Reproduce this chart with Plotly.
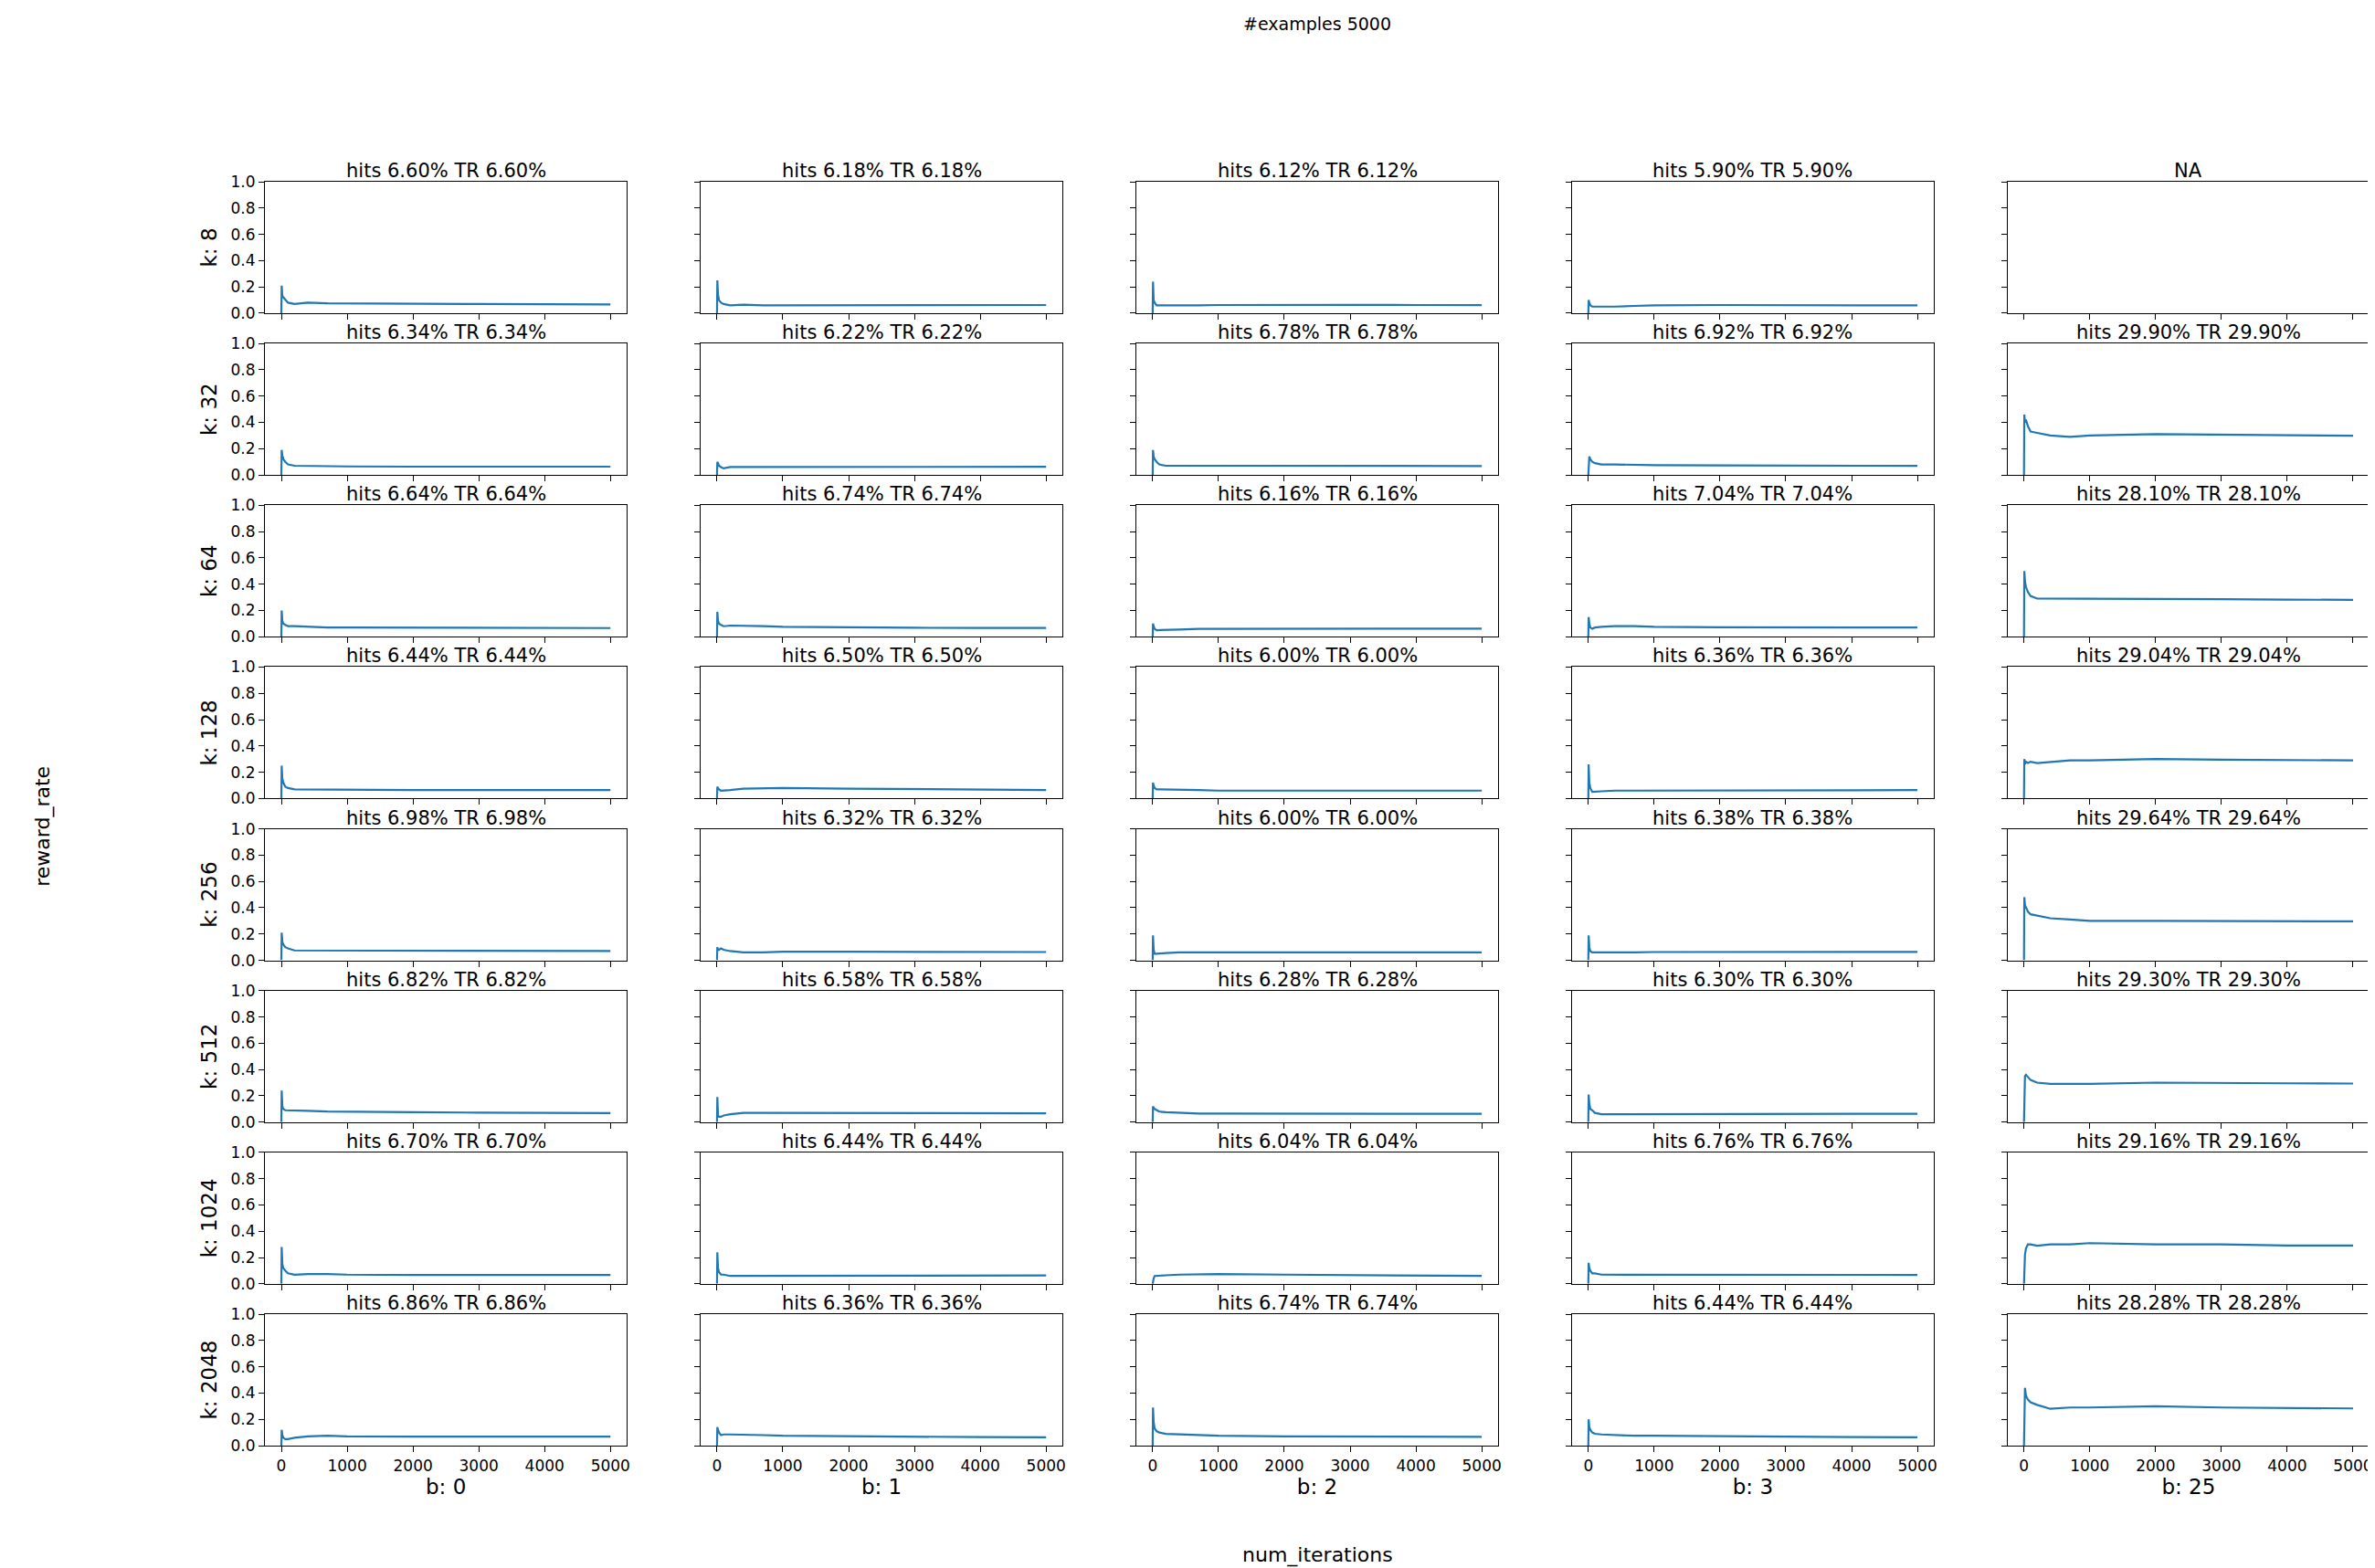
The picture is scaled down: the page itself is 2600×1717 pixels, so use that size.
import plotly.graph_objects as go
from plotly.subplots import make_subplots

k_values = [8, 32, 64, 128, 256, 512, 1024, 2048]
b_values = [0, 1, 2, 3, 25]

# sampled iteration positions shared by every curve
iters = [0, 5, 15, 30, 60, 100, 200, 400, 700, 1000, 2000, 3000, 4000, 5000]

# hits % per (k row, b column); None = NA
hits = [
    [6.60, 6.18, 6.12, 5.90, None],
    [6.34, 6.22, 6.78, 6.92, 29.90],
    [6.64, 6.74, 6.16, 7.04, 28.10],
    [6.44, 6.50, 6.00, 6.36, 29.04],
    [6.98, 6.32, 6.00, 6.38, 29.64],
    [6.82, 6.58, 6.28, 6.30, 29.30],
    [6.70, 6.44, 6.04, 6.76, 29.16],
    [6.86, 6.36, 6.74, 6.44, 28.28],
]

# reward rate curves, one list per cell
rates = [
    [[0, .21, .13, .12, .10, .08, .07, .08, .075, .075, .075, .07, .068, .066],
     [0, .25, .14, .10, .08, .07, .06, .065, .06, .06, .065, .063, .062, .062],
     [0, .24, .10, .08, .06, .06, .055, .06, .06, .062, .065, .063, .062, .061],
     [0, .10, .08, .06, .05, .05, .045, .05, .055, .06, .062, .06, .06, .059],
     None],
    [[0, .19, .15, .12, .10, .08, .07, .07, .065, .065, .063, .062, .063, .063],
     [0, .10, .09, .07, .06, .05, .06, .06, .06, .065, .065, .062, .062, .062],
     [0, .19, .14, .12, .10, .08, .07, .07, .07, .07, .068, .068, .068, .068],
     [0, .14, .14, .12, .10, .09, .08, .08, .075, .075, .072, .07, .07, .069],
     [0, .46, .40, .42, .37, .33, .32, .30, .29, .30, .31, .305, .30, .299]],
    [[0, .20, .12, .10, .09, .08, .08, .075, .07, .07, .068, .067, .066, .066],
     [0, .19, .12, .10, .09, .08, .085, .085, .08, .075, .07, .068, .067, .067],
     [0, .10, .08, .06, .05, .05, .05, .055, .06, .06, .062, .062, .062, .062],
     [0, .15, .10, .07, .06, .07, .075, .08, .08, .075, .072, .071, .07, .070],
     [0, .50, .42, .38, .34, .31, .29, .29, .29, .29, .29, .285, .282, .281]],
    [[0, .25, .15, .12, .09, .08, .07, .07, .065, .065, .065, .064, .064, .064],
     [0, .09, .08, .07, .06, .06, .065, .075, .08, .08, .075, .07, .067, .065],
     [0, .12, .10, .08, .07, .07, .07, .065, .065, .06, .06, .06, .06, .060],
     [0, .26, .12, .08, .05, .05, .055, .06, .06, .062, .064, .064, .064, .064],
     [0, .30, .26, .28, .27, .28, .27, .28, .29, .29, .30, .295, .29, .290]],
    [[0, .21, .14, .12, .10, .09, .075, .075, .075, .075, .072, .07, .07, .070],
     [0, .10, .08, .08, .09, .08, .07, .06, .06, .065, .065, .064, .063, .063],
     [0, .19, .08, .05, .05, .05, .055, .06, .06, .062, .06, .06, .06, .060],
     [0, .19, .10, .07, .06, .06, .055, .06, .06, .063, .064, .064, .064, .064],
     [0, .48, .42, .40, .37, .35, .34, .32, .31, .30, .30, .30, .298, .296]],
    [[0, .24, .12, .10, .09, .09, .085, .085, .08, .08, .075, .072, .07, .068],
     [0, .19, .05, .04, .04, .05, .06, .07, .07, .07, .068, .067, .066, .066],
     [0, .12, .11, .10, .09, .08, .075, .07, .065, .065, .064, .063, .063, .063],
     [0, .21, .14, .10, .09, .07, .06, .06, .06, .06, .062, .063, .063, .063],
     [0, .30, .35, .36, .34, .32, .30, .29, .29, .29, .30, .30, .295, .293]],
    [[0, .28, .15, .12, .10, .08, .07, .075, .075, .07, .068, .068, .067, .067],
     [0, .24, .12, .09, .07, .07, .06, .06, .062, .065, .065, .064, .064, .064],
     [0, .02, .04, .06, .06, .065, .065, .07, .075, .075, .07, .065, .062, .060],
     [0, .16, .12, .10, .08, .08, .07, .07, .07, .07, .068, .068, .068, .068],
     [0, .15, .22, .27, .30, .30, .29, .30, .30, .31, .30, .30, .292, .292]],
    [[0, .12, .08, .06, .05, .05, .06, .07, .075, .07, .068, .068, .068, .069],
     [0, .14, .12, .10, .08, .085, .085, .085, .08, .075, .07, .067, .065, .064],
     [0, .29, .18, .13, .11, .10, .09, .085, .08, .075, .07, .068, .067, .067],
     [0, .20, .14, .12, .10, .09, .085, .08, .075, .075, .07, .067, .065, .064],
     [0, .40, .44, .38, .35, .33, .31, .28, .29, .29, .30, .29, .285, .283]],
]

n_rows, n_cols = len(k_values), len(b_values)
titles = []
for r in range(n_rows):
    for c in range(n_cols):
        h = hits[r][c]
        titles.append('NA' if h is None else f'hits {h:.2f}% TR {h:.2f}%')

fig = make_subplots(rows=n_rows, cols=n_cols, shared_xaxes=True, shared_yaxes=True,
                    subplot_titles=titles, horizontal_spacing=0.035,
                    vertical_spacing=0.024)

for r in range(n_rows):
    for c in range(n_cols):
        ys = rates[r][c]
        if ys is None:
            # empty panel: keep the frame visible
            fig.add_trace(go.Scatter(x=[None], y=[None], mode='lines', showlegend=False,
                                     hoverinfo='skip'), row=r + 1, col=c + 1)
            continue
        fig.add_trace(go.Scatter(x=iters, y=ys, mode='lines',
                                 line=dict(color='#1f77b4', width=2.2),
                                 showlegend=False), row=r + 1, col=c + 1)

fig.update_xaxes(range=[-250, 5250], tickvals=[0, 1000, 2000, 3000, 4000, 5000],
                 showline=True, mirror=True, linecolor='black', linewidth=1.2,
                 ticks='outside', ticklen=6, tickcolor='black', showgrid=False,
                 zeroline=False, tickfont=dict(size=17, color='black'))
fig.update_yaxes(range=[0, 1], tickvals=[0, 0.2, 0.4, 0.6, 0.8, 1.0], tickformat='.1f',
                 showline=True, mirror=True, linecolor='black', linewidth=1.2,
                 ticks='outside', ticklen=6, tickcolor='black', showgrid=False,
                 zeroline=False, tickfont=dict(size=17, color='black'))

for r, k in enumerate(k_values):
    fig.update_yaxes(title_text=f'k: {k}', title_font=dict(size=23, color='black'),
                     title_standoff=8, row=r + 1, col=1)
for c, b in enumerate(b_values):
    fig.update_xaxes(title_text=f'b: {b}', title_font=dict(size=23, color='black'),
                     title_standoff=6, row=n_rows, col=c + 1)

for a in fig.layout.annotations:
    a.font = dict(size=21, color='black')
    a.yshift = -2

fig.add_annotation(text='#examples 5000', x=0.5, y=1.125, xref='paper', yref='paper',
                   xanchor='center', yanchor='middle', showarrow=False,
                   font=dict(size=19, color='black'))
fig.add_annotation(text='reward_rate', x=-0.112, y=0.49, xref='paper', yref='paper',
                   textangle=-90, showarrow=False, font=dict(size=22, color='black'))
fig.add_annotation(text='num_iterations', x=0.5, y=-0.087, xref='paper', yref='paper',
                   yanchor='middle', showarrow=False, font=dict(size=22, color='black'))

fig.update_layout(width=2600, height=1717, plot_bgcolor='white', paper_bgcolor='white',
                  font=dict(family='DejaVu Sans', color='black'),
                  margin=dict(l=282, r=10, t=191, b=142))

fig.write_html('out.html')
